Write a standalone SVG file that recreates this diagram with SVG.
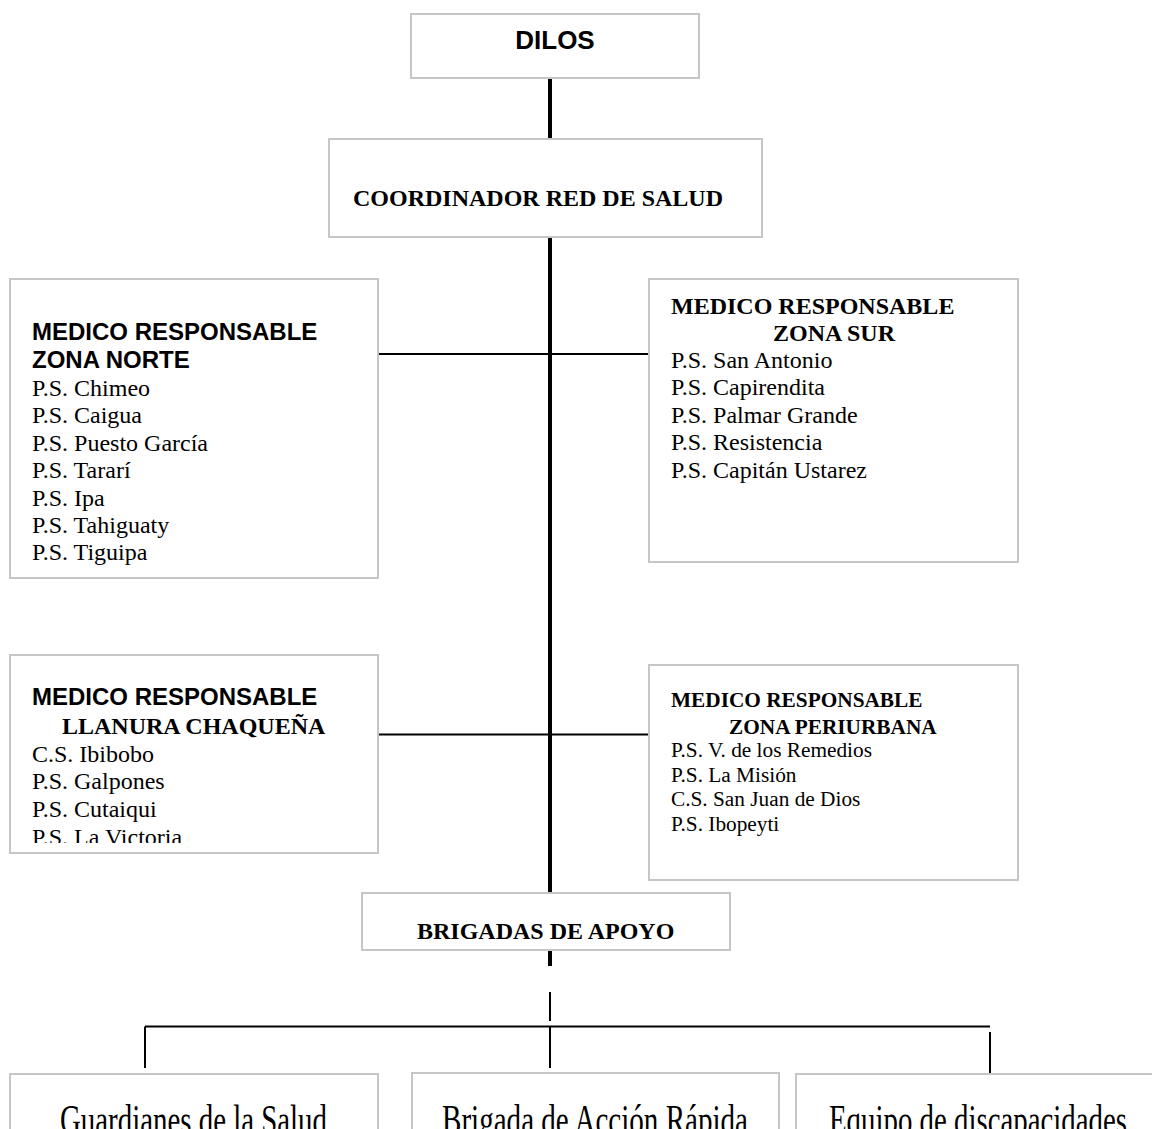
<svg xmlns="http://www.w3.org/2000/svg" width="1152" height="1129" viewBox="0 0 1152 1129">
  <style>
    .box { fill: #ffffff; stroke: #c6c6c6; stroke-width: 2; }
    .trunk { stroke: #000000; stroke-width: 4; fill: none; }
    .link { stroke: #000000; stroke-width: 2; fill: none; }
    .sansb { font-family: "Liberation Sans", Arial, sans-serif; font-weight: bold; fill: #000000; }
    .serifb { font-family: "Liberation Serif", "Times New Roman", serif; font-weight: bold; fill: #000000; }
    .serif { font-family: "Liberation Serif", "Times New Roman", serif; fill: #000000; }
  </style>
  <defs>
    <clipPath id="clip-llanura">
      <rect x="10" y="655" width="368" height="188"/>
    </clipPath>
  </defs>
  <rect width="1152" height="1129" fill="#ffffff"/>

  <!-- connectors -->
  <g id="connectors">
    <line class="trunk" x1="550" y1="78" x2="550" y2="139"/>
    <line class="trunk" x1="550" y1="237" x2="550" y2="893"/>
    <line class="link" x1="378" y1="354" x2="649" y2="354"/>
    <line class="link" x1="378" y1="734.5" x2="649" y2="734.5"/>
    <line class="trunk" x1="550" y1="950" x2="550" y2="966"/>
    <line class="link" x1="550" y1="992" x2="550" y2="1021"/>
    <line class="link" x1="145" y1="1026.5" x2="990" y2="1026.5"/>
    <line class="link" x1="145" y1="1026.5" x2="145" y2="1068"/>
    <line class="link" x1="550" y1="1026.5" x2="550" y2="1068"/>
    <line class="link" x1="990" y1="1032" x2="990" y2="1073"/>
  </g>

  <g id="dilos">
    <rect class="box" x="411" y="14" width="288" height="64"/>
    <text class="sansb" x="555" y="49" font-size="26" text-anchor="middle">DILOS</text>
  </g>

  <g id="coordinador">
    <rect class="box" x="329" y="139" width="433" height="98"/>
    <text class="serifb" x="353" y="206" font-size="24">COORDINADOR RED DE SALUD</text>
  </g>

  <g id="zona-norte">
    <rect class="box" x="10" y="279" width="368" height="299"/>
    <text class="sansb" x="32" y="340" font-size="24">MEDICO RESPONSABLE</text>
    <text class="sansb" x="32" y="368" font-size="24">ZONA NORTE</text>
    <text class="serif" font-size="24">
      <tspan x="32" y="396">P.S. Chimeo</tspan>
      <tspan x="32" y="423.4">P.S. Caigua</tspan>
      <tspan x="32" y="450.8">P.S. Puesto García</tspan>
      <tspan x="32" y="478.2">P.S. Tararí</tspan>
      <tspan x="32" y="505.6">P.S. Ipa</tspan>
      <tspan x="32" y="533">P.S. Tahiguaty</tspan>
      <tspan x="32" y="560.4">P.S. Tiguipa</tspan>
    </text>
  </g>

  <g id="zona-sur">
    <rect class="box" x="649" y="279" width="369" height="283"/>
    <text class="serifb" x="671" y="314" font-size="24">MEDICO RESPONSABLE</text>
    <text class="serifb" x="773" y="341" font-size="24">ZONA SUR</text>
    <text class="serif" font-size="24">
      <tspan x="671" y="368">P.S. San Antonio</tspan>
      <tspan x="671" y="395.4">P.S. Capirendita</tspan>
      <tspan x="671" y="422.8">P.S. Palmar Grande</tspan>
      <tspan x="671" y="450.2">P.S. Resistencia</tspan>
      <tspan x="671" y="477.6">P.S. Capitán Ustarez</tspan>
    </text>
  </g>

  <g id="llanura-chaquena">
    <rect class="box" x="10" y="655" width="368" height="198"/>
    <text class="sansb" x="32" y="705" font-size="24">MEDICO RESPONSABLE</text>
    <text class="serifb" x="62" y="734" font-size="24">LLANURA CHAQUEÑA</text>
    <text class="serif" font-size="24" clip-path="url(#clip-llanura)">
      <tspan x="32" y="762">C.S. Ibibobo</tspan>
      <tspan x="32" y="789.4">P.S. Galpones</tspan>
      <tspan x="32" y="816.8">P.S. Cutaiqui</tspan>
      <tspan x="32" y="845">P.S. La Victoria</tspan>
    </text>
  </g>

  <g id="zona-periurbana">
    <rect class="box" x="649" y="665" width="369" height="215"/>
    <text class="serifb" x="671" y="707" font-size="21.3">MEDICO RESPONSABLE</text>
    <text class="serifb" x="729" y="734" font-size="21.3">ZONA PERIURBANA</text>
    <text class="serif" font-size="21.3">
      <tspan x="671" y="757">P.S. V. de los Remedios</tspan>
      <tspan x="671" y="781.7">P.S. La Misión</tspan>
      <tspan x="671" y="806.4">C.S. San Juan de Dios</tspan>
      <tspan x="671" y="831.1">P.S. Ibopeyti</tspan>
    </text>
  </g>

  <g id="brigadas">
    <rect class="box" x="362" y="893" width="368" height="57"/>
    <text class="serifb" x="417" y="939" font-size="24">BRIGADAS DE APOYO</text>
  </g>

  <g id="guardianes">
    <rect class="box" x="10" y="1074" width="368" height="70"/>
    <text class="serif" x="60" y="1134" font-size="42" textLength="267" lengthAdjust="spacingAndGlyphs">Guardianes de la Salud</text>
  </g>

  <g id="accion-rapida">
    <rect class="box" x="412" y="1073" width="367" height="70"/>
    <text class="serif" x="442" y="1134" font-size="42" textLength="306" lengthAdjust="spacingAndGlyphs">Brigada de Acción Rápida</text>
  </g>

  <g id="discapacidades">
    <rect class="box" x="796" y="1074" width="364" height="70"/>
    <text class="serif" x="829" y="1134" font-size="42" textLength="298" lengthAdjust="spacingAndGlyphs">Equipo de discapacidades</text>
  </g>
</svg>
